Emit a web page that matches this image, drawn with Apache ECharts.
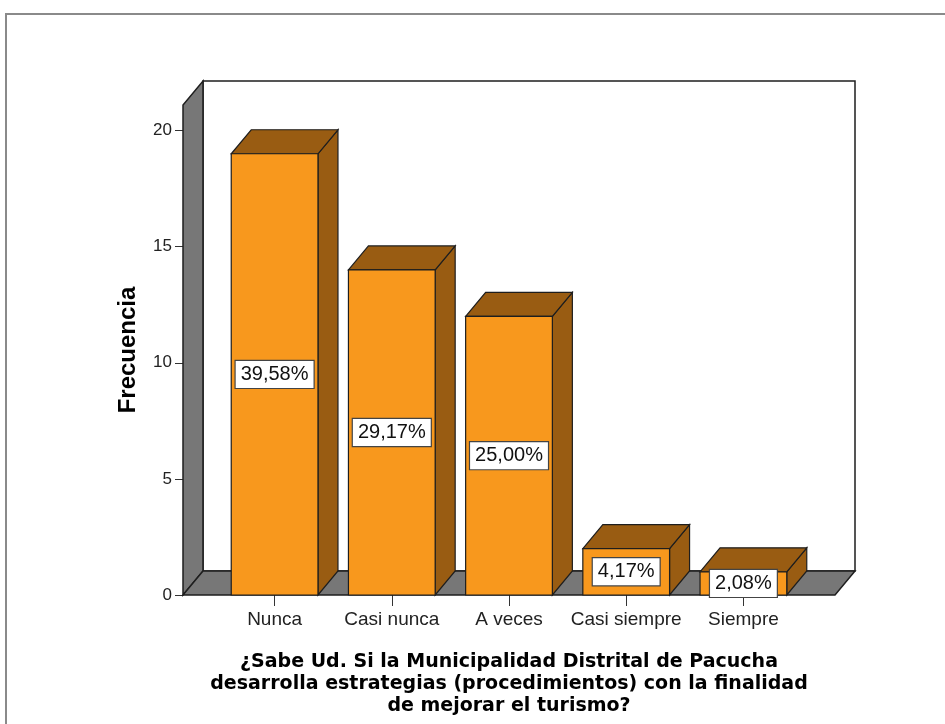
<!DOCTYPE html>
<html>
<head>
<meta charset="utf-8">
<title>Frecuencia</title>
<script src="https://cdn.jsdelivr.net/npm/echarts@6/dist/echarts.min.js"></script>
<style>
  html, body { margin: 0; padding: 0; background: #fff; }
  #main { width: 945px; height: 724px; }
</style>
</head>
<body>
<div id="main"></div>
<script>
// datos del gráfico
var categorias = ['Nunca', 'Casi nunca', 'A veces', 'Casi siempre', 'Siempre'];
var frecuencias = [19, 14, 12, 2, 1];
var porcentajes = ['39,58%', '29,17%', '25,00%', '4,17%', '2,08%'];
var yTicks = [0, 5, 10, 15, 20];
var yMax = 21.1; // borde superior de la pared
var tituloX = [
  '¿Sabe Ud. Si la Municipalidad Distrital de Pacucha',
  'desarrolla estrategias (procedimientos) con la finalidad',
  'de mejorar el turismo?'
];

// colores y estilo 3D
var naranja = '#f8981d';
var cafe = '#995c12';
var gris = '#777777';
var borde = '#1e1e1e';
var DX = 20, DY = -24;   // profundidad
var EXT = 33;            // el piso sobresale del area de barras

(function () {
  //1、实例化对象
  var myChart = echarts.init(document.getElementById('main'));

  // paredes + piso
  function renderWalls(params, api) {
    var cs = params.coordSys;
    var x0 = cs.x - EXT, x1 = cs.x + cs.width + EXT;
    var yt = cs.y, yb = cs.y + cs.height;
    var st = { stroke: borde, lineWidth: 1.5 };
    return {
      type: 'group',
      children: [
        {
          type: 'rect',
          shape: { x: x0 + DX, y: yt + DY, width: x1 - x0, height: yb - yt },
          style: Object.assign({ fill: '#fff' }, st)
        },
        {
          type: 'polygon',
          shape: { points: [[x0, yb], [x0, yt], [x0 + DX, yt + DY], [x0 + DX, yb + DY]] },
          style: Object.assign({ fill: gris }, st)
        },
        {
          type: 'polygon',
          shape: { points: [[x0, yb], [x1, yb], [x1 + DX, yb + DY], [x0 + DX, yb + DY]] },
          style: Object.assign({ fill: gris }, st)
        }
      ]
    };
  }

  // barras 3D con etiqueta de porcentaje
  function renderBar(params, api) {
    var i = api.value(0);
    var top = api.coord([i, api.value(1)]);
    var base = api.coord([i, 0]);
    var hw = api.size([1, 0])[0] * 0.37;
    var l = top[0] - hw, r = top[0] + hw;
    var t = top[1], b = base[1];
    var st = { stroke: borde, lineWidth: 1.2 };
    return {
      type: 'group',
      children: [
        {
          type: 'polygon',
          shape: { points: [[r, b], [r, t], [r + DX, t + DY], [r + DX, b + DY]] },
          style: Object.assign({ fill: cafe }, st)
        },
        {
          type: 'polygon',
          shape: { points: [[l, t], [r, t], [r + DX, t + DY], [l + DX, t + DY]] },
          style: Object.assign({ fill: cafe }, st)
        },
        {
          type: 'rect',
          shape: { x: l, y: t, width: r - l, height: b - t },
          style: Object.assign({ fill: naranja }, st)
        },
        {
          type: 'text',
          x: top[0],
          y: (t + b) / 2,
          style: {
            text: porcentajes[i],
            fill: '#111',
            fontFamily: 'Liberation Sans',
            fontSize: 20,
            lineHeight: 20,
            align: 'center',
            verticalAlign: 'middle',
            backgroundColor: '#fff',
            borderColor: '#444',
            borderWidth: 1.2,
            padding: [4, 5, 3, 5]
          }
        }
      ]
    };
  }

  //2、指定配置项和数据
  var option = {
    backgroundColor: '#fff',
    animation: false,
    textStyle: { fontFamily: 'Liberation Sans' },
    grid: { left: 216, right: 143, top: 105, bottom: 129 },
    xAxis: {
      type: 'category',
      data: categorias,
      axisLine: { show: false },
      axisTick: { show: true, alignWithLabel: true, length: 11, lineStyle: { color: '#333' } },
      axisLabel: { interval: 0, margin: 15, fontSize: 19, color: '#222' },
      splitLine: { show: false }
    },
    yAxis: {
      type: 'value',
      min: 0,
      max: yMax,
      offset: EXT,
      name: 'Frecuencia',
      nameLocation: 'middle',
      nameGap: 43,
      nameTextStyle: { fontSize: 24, fontWeight: 'bold', color: '#000' },
      axisLine: { show: true, lineStyle: { color: borde } },
      axisTick: { show: true, length: 8, customValues: yTicks, lineStyle: { color: '#333' } },
      axisLabel: { customValues: yTicks, margin: 11, fontSize: 17, color: '#222' },
      splitLine: { show: false }
    },
    graphic: [
      {
        type: 'rect',
        shape: { x: 6, y: 14, width: 1000, height: 800 },
        style: { fill: 'none', stroke: '#8a8a8a', lineWidth: 2 },
        silent: true
      },
      {
        type: 'text',
        x: 509,
        y: 684,
        style: {
          text: tituloX.join('\n'),
          fontFamily: 'DejaVu Sans',
          fontWeight: 'bold',
          fontSize: 19,
          lineHeight: 22,
          fill: '#000',
          align: 'center',
          verticalAlign: 'middle'
        }
      }
    ],
    series: [
      {
        type: 'custom',
        renderItem: renderWalls,
        data: [[0, 0]],
        clip: false,
        silent: true,
        z: 1
      },
      {
        type: 'custom',
        renderItem: renderBar,
        data: categorias.map(function (c, i) { return [i, frecuencias[i]]; }),
        clip: false,
        z: 2
      }
    ]
  };

  //3、把配置项给实例对象
  myChart.setOption(option);

  window.addEventListener('resize', function () {
    myChart.resize();
  });
})();
</script>
</body>
</html>
